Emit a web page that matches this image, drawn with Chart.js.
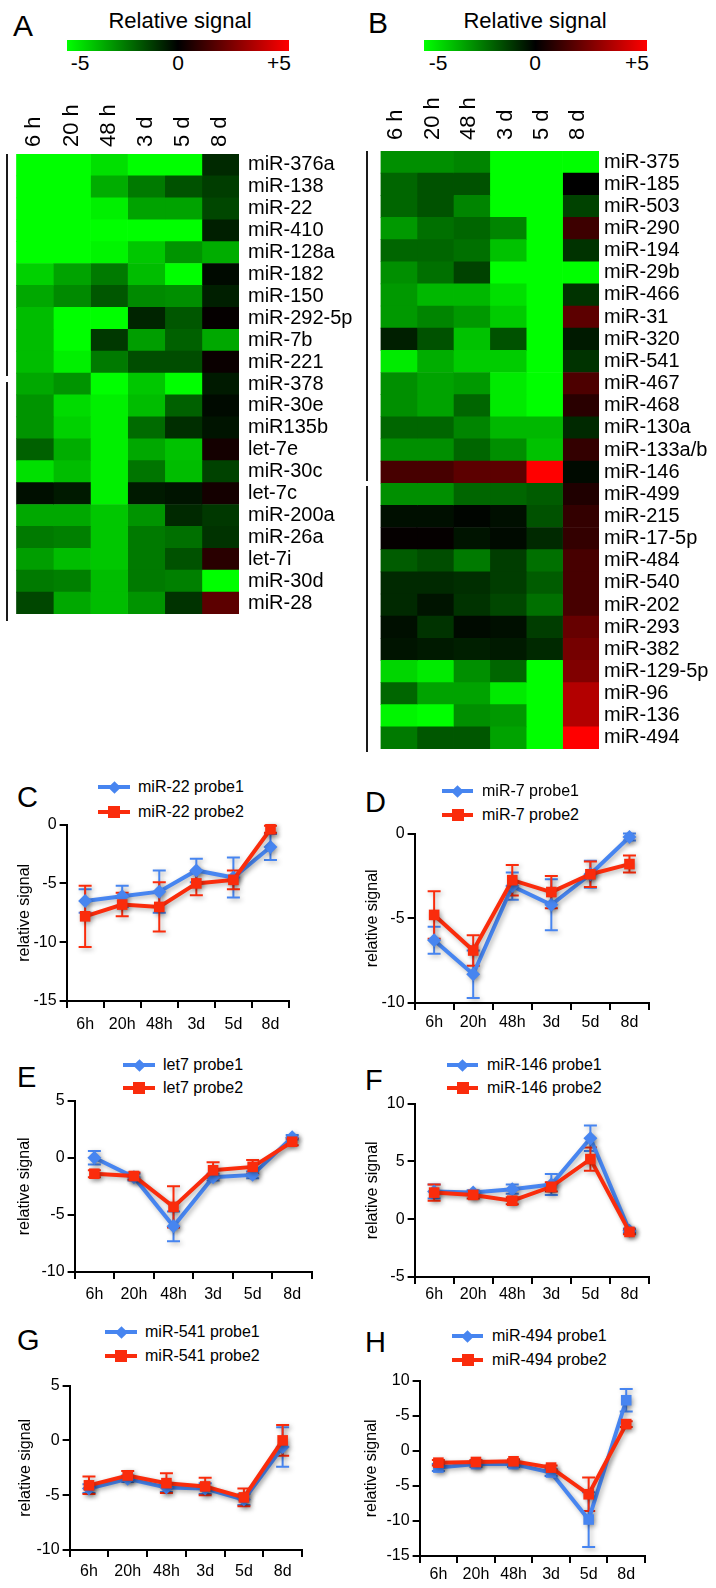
<!DOCTYPE html>
<html><head><meta charset="utf-8">
<script src="https://cdn.jsdelivr.net/npm/chart.js@4.4.1/dist/chart.umd.min.js"></script>
<style>
html,body{margin:0;padding:0;background:#fff;}
#fig{position:relative;width:716px;height:1588px;overflow:hidden;font-family:'Liberation Sans',Arial,sans-serif;color:#000;background:#fff;}
.t{position:absolute;white-space:nowrap;line-height:1;}
canvas{position:absolute;}
.blk{position:absolute;}
</style></head><body><div id="fig"></div>
<script>
// ---------------- data ----------------
const timeLabels = ['6 h','20 h','48 h','3 d','5 d','8 d'];
const timeTicks = ['6h','20h','48h','3d','5d','8d'];
const scaleLabels = ['-5','0','+5'];

const rowsA = ['miR-376a','miR-138','miR-22','miR-410','miR-128a','miR-182','miR-150','miR-292-5p','miR-7b','miR-221',
  'miR-378','miR-30e','miR135b','let-7e','miR-30c','let-7c','miR-200a','miR-26a','let-7i','miR-30d','miR-28'];
const valuesA = [
  [-5,-5,-4.4,-5,-5,-0.8],
  [-5,-5,-3.4,-2.4,-1.6,-1.2],
  [-5,-5,-4.7,-3.2,-3.2,-1.4],
  [-5,-5,-5,-5,-5,-0.6],
  [-5,-5,-4.8,-3.9,-2.9,-3.4],
  [-4.1,-3.2,-2.4,-3.7,-5,-0.2],
  [-3.3,-2.7,-1.7,-2.7,-2.8,-0.6],
  [-3.7,-5,-5,-0.7,-1.7,0.1],
  [-3.7,-5,-1.1,-3.1,-1.9,-3.3],
  [-3.7,-4.7,-2.4,-1.5,-1.5,0.2],
  [-3.3,-2.9,-5,-3.9,-5,-0.5],
  [-2.9,-4.3,-4.7,-3.7,-1.9,-0.2],
  [-2.9,-4.1,-4.7,-2.1,-0.9,-0.4],
  [-1.9,-3.4,-4.7,-3.3,-3.8,0.4],
  [-4.4,-3.7,-4.7,-2.3,-3.7,-1.3],
  [-0.3,-0.5,-4.7,-0.5,-0.4,0.4],
  [-3.3,-3.3,-3.9,-2.9,-0.8,-1.1],
  [-2.4,-2.5,-3.9,-2.4,-2.2,-1.0],
  [-3.1,-3.7,-3.9,-2.4,-1.6,0.8],
  [-2.4,-2.5,-3.7,-2.4,-2.5,-5],
  [-1.4,-3.3,-3.7,-2.9,-1.0,1.8]
];

const rowsB = ['miR-375','miR-185','miR-503','miR-290','miR-194','miR-29b','miR-466','miR-31','miR-320','miR-541',
  'miR-467','miR-468','miR-130a','miR-133a/b','miR-146','miR-499','miR-215','miR-17-5p','miR-484','miR-540',
  'miR-202','miR-293','miR-382','miR-129-5p','miR-96','miR-136','miR-494'];
const valuesB = [
  [-2.8,-2.8,-2.6,-5,-5,-5],
  [-2.0,-1.6,-1.6,-5,-5,0],
  [-2.0,-1.6,-2.6,-5,-5,-1.3],
  [-3.0,-2.2,-2.0,-2.6,-5,1.2],
  [-2.0,-2.0,-2.2,-3.8,-5,-1.0],
  [-2.8,-2.2,-1.3,-5,-5,-5],
  [-3.0,-3.6,-3.6,-4.4,-5,-1.0],
  [-3.0,-2.6,-3.0,-4.0,-5,1.8],
  [-0.6,-1.6,-3.8,-1.6,-5,-0.5],
  [-4.6,-3.4,-4.0,-4.0,-5,-1.0],
  [-2.8,-3.2,-3.0,-4.6,-5,1.5],
  [-2.8,-3.2,-2.0,-4.6,-5,0.8],
  [-2.0,-2.0,-2.6,-3.6,-3.6,-0.8],
  [-2.8,-2.8,-2.0,-2.8,-3.8,1.0],
  [1.4,1.4,1.8,1.8,5,-0.2],
  [-2.8,-2.8,-2.0,-2.0,-1.8,0.6],
  [-0.3,-0.3,-0.1,-0.3,-1.6,1.0],
  [0.1,0.1,-0.4,-0.2,-0.8,1.0],
  [-1.8,-1.5,-2.4,-1.2,-2.2,1.4],
  [-0.8,-0.8,-0.9,-1.2,-1.8,1.4],
  [-0.8,-0.4,-1.0,-1.4,-2.2,1.4],
  [-0.3,-1.0,-0.2,-0.3,-1.2,2.0],
  [-0.4,-0.5,-0.6,-0.5,-0.8,2.3],
  [-4.2,-4.6,-2.8,-2.0,-5,2.5],
  [-2.0,-3.2,-3.2,-4.6,-5,3.5],
  [-4.8,-5,-2.8,-3.0,-5,3.5],
  [-2.4,-1.7,-1.7,-3.2,-5,5]
];

// line panels: probe1 / probe2 means and error sizes
const cNames = ['miR-22 probe1','miR-22 probe2'];
const cProbe1 = [-6.5,-6.1,-5.7,-3.9,-4.5,-1.9];
const cErr1   = [1.0,0.9,1.8,1.0,1.7,1.1];
const cProbe2 = [-7.8,-6.8,-7.0,-5.0,-4.7,-0.4];
const cErr2   = [2.6,1.0,2.1,1.0,0.8,0.3];

const dNames = ['miR-7 probe1','miR-7 probe2'];
const dProbe1 = [-6.3,-8.3,-3.1,-4.2,-2.4,-0.2];
const dErr1   = [0.8,1.4,0.8,1.5,0.8,0.2];
const dProbe2 = [-4.8,-6.9,-2.75,-3.45,-2.4,-1.8];
const dErr2   = [1.4,0.9,0.9,0.95,0.75,0.5];

const eNames = ['let7 probe1','let7 probe2'];
const eProbe1 = [0.0,-1.7,-6.0,-1.7,-1.5,1.8];
const eErr1   = [0.6,0.3,1.3,0.3,0.3,0.2];
const eProbe2 = [-1.4,-1.6,-4.3,-1.1,-0.8,1.4];
const eErr2   = [0.3,0.3,1.8,0.7,0.6,0.3];

const fNames = ['miR-146 probe1','miR-146 probe2'];
const fProbe1 = [2.4,2.3,2.6,3.0,7.0,-1.0];
const fErr1   = [0.6,0.2,0.4,0.9,1.1,0.2];
const fProbe2 = [2.3,2.1,1.6,2.8,5.2,-1.1];
const fErr2   = [0.7,0.3,0.3,0.4,1.0,0.2];

const gNames = ['miR-541 probe1','miR-541 probe2'];
const gProbe1 = [-4.4,-3.5,-4.3,-4.4,-5.4,-0.6];
const gErr1   = [0.4,0.3,0.4,0.5,0.5,1.8];
const gProbe2 = [-4.1,-3.2,-3.9,-4.2,-5.2,0.0];
const gErr2   = [0.8,0.4,0.9,0.8,0.8,1.4];

const hNames = ['miR-494 probe1','miR-494 probe2'];
const hProbe1 = [-2.4,-1.9,-1.9,-3.1,-9.8,7.2];
const hErr1   = [0.5,0.4,0.4,0.5,3.9,1.6];
const hProbe2 = [-1.7,-1.6,-1.5,-2.4,-6.2,3.8];
const hErr2   = [0.4,0.3,0.3,0.3,2.4,0.4];
const hTickValues = [10,5,0,-5,-10,-15];
const hTickText   = ['10','-5','0','-5','-10','-15'];

// ---------------- drawing ----------------
const FONT = "'Liberation Sans', Arial, sans-serif";
Chart.defaults.font.family = FONT;
Chart.defaults.color = '#000';
const BLUE = '#4785f0';
const RED = '#fa2c0c';
const fig = document.getElementById('fig');

function text(str, x, capTop, fs, align) {
  const d = document.createElement('div');
  d.className = 't'; d.textContent = str;
  d.style.fontSize = fs + 'px';
  d.style.top = (capTop - 0.13 * fs) + 'px';
  d.style.left = x + 'px';
  if (align === 'center') d.style.transform = 'translateX(-50%)';
  fig.appendChild(d); return d;
}
function block(x, y, w, h, bg, extra) {
  const d = document.createElement('div');
  d.className = 'blk';
  d.style.left = x + 'px'; d.style.top = y + 'px';
  d.style.width = w + 'px'; d.style.height = h + 'px';
  d.style.background = bg;
  if (extra) Object.assign(d.style, extra);
  fig.appendChild(d); return d;
}
function makeCanvas(left, top, w, h) {
  const c = document.createElement('canvas');
  c.width = Math.round(w); c.height = Math.round(h);
  c.style.left = left + 'px'; c.style.top = top + 'px';
  c.style.width = Math.round(w) + 'px'; c.style.height = Math.round(h) + 'px';
  fig.appendChild(c); return c;
}

function heatColor(v) {
  const k = Math.min(1, Math.abs(v) / 5);
  const c = Math.round(255 * k);
  return v < 0 ? `rgb(0,${c},0)` : `rgb(${c},0,0)`;
}

// headers
function header(letter, lx, ltop, cx, barL, barR, lblX) {
  text(letter, lx, ltop, 30);
  text('Relative signal', cx, 13, 22, 'center');
  block(barL, 40, barR - barL, 11, 'linear-gradient(to right, #00ff00 0%, #000000 50%, #ff0000 100%)');
  scaleLabels.forEach((s, i) => text(s, lblX[i], 55, 21, 'center'));
}
header('A', 13, 15, 180, 67, 289, [80, 178, 279]);
header('B', 368, 12, 535, 424, 647, [438, 535, 637]);

function heatmap(cfg, rows, values) {
  const padL = 16, padB = 14, topH = 60;
  const w = padL + (cfg.right - cfg.left) + cfg.labelW;
  const h = topH + (cfg.bottom - cfg.top) + padB;
  const cv = makeCanvas(cfg.left - padL, cfg.top - topH, w, h);
  new Chart(cv, {
    type: 'bar',
    data: {
      labels: rows,
      datasets: timeLabels.map((t, c) => ({
        label: t,
        data: rows.map(() => [c, c + 1]),
        backgroundColor: values.map(r => heatColor(r[c])),
        borderWidth: 0, grouped: false, barPercentage: 1, categoryPercentage: 1
      }))
    },
    options: {
      responsive: false, animation: false, indexAxis: 'y',
      layout: { padding: { left: padL, top: 0, right: 0, bottom: padB } },
      plugins: { legend: { display: false }, tooltip: { enabled: false } },
      scales: {
        x: { type: 'linear', min: 0, max: 6, display: false },
        x2: { type: 'category', axis: 'x', labels: timeLabels, position: 'top', offset: true,
          grid: { display: false, drawTicks: false }, border: { display: false },
          ticks: { autoSkip: false, minRotation: 90, maxRotation: 90, padding: cfg.colPad, labelOffset: cfg.colOffset,
            font: { size: 22 }, color: '#000' },
          afterFit: s => { s.height = topH; } },
        y: { type: 'category', position: 'right', offset: true,
          grid: { display: false, drawTicks: false }, border: { display: false },
          ticks: { autoSkip: false, padding: cfg.labelPad, font: { size: 20 }, color: '#000' },
          afterFit: s => { s.width = cfg.labelW; } }
      }
    }
  });
  cfg.brackets.forEach(b => block(cfg.bx, b[0], 2, b[1] - b[0], '#1a1a1a'));
}
heatmap({ left: 16, right: 239, top: 154, bottom: 621, labelW: 130, labelPad: 9, colPad: 7, colOffset: 26,
  bx: 6, brackets: [[154, 376], [382, 621]] }, rowsA, valuesA);
heatmap({ left: 376, right: 599, top: 151, bottom: 752, labelW: 116, labelPad: 5, colPad: 11, colOffset: 24,
  bx: 366, brackets: [[151, 481], [486, 752]] }, rowsB, valuesB);

// error bars + shadow plugin
const errorBars = {
  id: 'errorBars',
  beforeDatasetsDraw(chart) {
    const ctx = chart.ctx;
    ctx.save();
    ctx.shadowColor = 'rgba(0,0,0,0.30)';
    ctx.shadowBlur = 5; ctx.shadowOffsetX = 2; ctx.shadowOffsetY = 2;
    const ys = chart.scales.y;
    for (let di = chart.data.datasets.length - 1; di >= 0; di--) {
      const ds = chart.data.datasets[di];
      const meta = chart.getDatasetMeta(di);
      ctx.strokeStyle = ds.borderColor; ctx.lineWidth = 2;
      meta.data.forEach((pt, i) => {
        const v = ds.data[i], e = ds.errors[i];
        const yTop = ys.getPixelForValue(v + e), yBot = ys.getPixelForValue(v - e);
        const x = pt.x, cap = 6.5;
        ctx.beginPath();
        ctx.moveTo(x, yTop); ctx.lineTo(x, yBot);
        ctx.moveTo(x - cap, yTop); ctx.lineTo(x + cap, yTop);
        ctx.moveTo(x - cap, yBot); ctx.lineTo(x + cap, yBot);
        ctx.stroke();
      });
    }
  },
  afterDatasetsDraw(chart) { chart.ctx.restore(); }
};

function legendEntry(lg, y, color, shape, label) {
  block(lg.x0, y - 2, lg.x1 - lg.x0, 4, color);
  const cx = (lg.x0 + lg.x1) / 2;
  if (shape === 'diamond') {
    block(cx - 4.5, y - 4.5, 9, 9, color, { transform: 'rotate(45deg)' });
  } else {
    block(cx - 6, y - 6, 12, 12, color);
  }
  text(label, lg.tx, y - 0.36 * 16, 16);
}

function lineChart(cfg, names, p1, e1, p2, e2) {
  text(cfg.id, cfg.letterX, cfg.letterTop, 29);
  legendEntry(cfg.leg, cfg.leg.y1, BLUE, 'diamond', names[0]);
  legendEntry(cfg.leg, cfg.leg.y2, RED, 'square', names[1]);

  const padT = 12, padR = 8, padB = 4, xH = 40;
  const left = cfg.titleX - 11.6;
  const yW = cfg.x0 - left;
  const w = yW + (cfg.x1 - cfg.x0) + padR;
  const h = (cfg.yBot - cfg.yTop) + padT + xH + padB;
  const cv = makeCanvas(left, cfg.yTop - padT, w, h);
  new Chart(cv, {
    type: 'line',
    data: {
      labels: timeTicks,
      datasets: [
        { label: names[1], data: p2, errors: e2, borderColor: RED, backgroundColor: RED,
          pointStyle: 'rect', pointRadius: 7.5, pointBorderWidth: 0, borderWidth: 4, order: 0, clip: false, tension: 0 },
        { label: names[0], data: p1, errors: e1, borderColor: BLUE, backgroundColor: BLUE,
          pointStyle: cfg.p1Style || 'rectRot', pointRadius: cfg.p1Style ? 7.5 : 7, pointBorderWidth: 0,
          borderWidth: 4, order: 1, clip: false, tension: 0 }
      ]
    },
    options: {
      responsive: false, animation: false,
      layout: { padding: { left: 0, top: padT, right: padR, bottom: padB } },
      plugins: { legend: { display: false }, tooltip: { enabled: false } },
      scales: {
        x: { offset: true,
          grid: { display: true, drawOnChartArea: false, offset: true, tickLength: 7, color: '#000', lineWidth: 2 },
          border: { display: true, color: '#000', width: 2 },
          ticks: { autoSkip: false, maxRotation: 0, minRotation: 0, padding: cfg.xPad, font: { size: 16 }, color: '#000' },
          afterFit: s => { s.height = xH; } },
        y: { min: cfg.min, max: cfg.max,
          grid: { display: true, drawOnChartArea: false, tickLength: 7, color: '#000', lineWidth: 2 },
          border: { display: true, color: '#000', width: 2 },
          ticks: { stepSize: 5, padding: 3, font: { size: 16 }, color: '#000',
            callback: v => cfg.tickText ? cfg.tickText[cfg.tickVals.indexOf(v)] : String(v) },
          title: { display: true, text: 'relative signal', font: { size: 16 }, color: '#000', padding: { top: 2, bottom: 0 } },
          afterFit: s => { s.width = yW; } }
      }
    },
    plugins: [errorBars]
  });
}

lineChart({ id: 'C', letterX: 17, letterTop: 787, x0: 67, x1: 289, yTop: 824, yBot: 1001, min: -15, max: 0, titleX: 25, xPad: 7,
  leg: { x0: 98, x1: 130, y1: 787, y2: 812, tx: 138 } }, cNames, cProbe1, cErr1, cProbe2, cErr2);
lineChart({ id: 'D', letterX: 365, letterTop: 792, x0: 415, x1: 649, yTop: 833, yBot: 1003, min: -10, max: 0, titleX: 373, xPad: 3,
  leg: { x0: 442, x1: 473, y1: 791, y2: 815, tx: 482 } }, dNames, dProbe1, dErr1, dProbe2, dErr2);
lineChart({ id: 'E', letterX: 17, letterTop: 1067, x0: 75, x1: 312, yTop: 1100, yBot: 1272, min: -10, max: 5, titleX: 25, xPad: 6,
  leg: { x0: 123, x1: 155, y1: 1065, y2: 1088, tx: 163 } }, eNames, eProbe1, eErr1, eProbe2, eErr2);
lineChart({ id: 'F', letterX: 365, letterTop: 1070, x0: 415, x1: 649, yTop: 1103, yBot: 1277, min: -5, max: 10, titleX: 373, xPad: 1,
  leg: { x0: 447, x1: 478, y1: 1065, y2: 1088, tx: 487 } }, fNames, fProbe1, fErr1, fProbe2, fErr2);
lineChart({ id: 'G', letterX: 17, letterTop: 1330, x0: 70, x1: 302, yTop: 1385, yBot: 1550, min: -10, max: 5, titleX: 26, xPad: 5,
  leg: { x0: 105, x1: 137, y1: 1332, y2: 1356, tx: 145 } }, gNames, gProbe1, gErr1, gProbe2, gErr2);
lineChart({ id: 'H', letterX: 365, letterTop: 1332, x0: 420, x1: 645, yTop: 1380, yBot: 1556, min: -15, max: 10, titleX: 372, xPad: 2,
  p1Style: 'rect', tickVals: hTickValues, tickText: hTickText,
  leg: { x0: 452, x1: 483, y1: 1336, y2: 1360, tx: 492 } }, hNames, hProbe1, hErr1, hProbe2, hErr2);
</script></body></html>
